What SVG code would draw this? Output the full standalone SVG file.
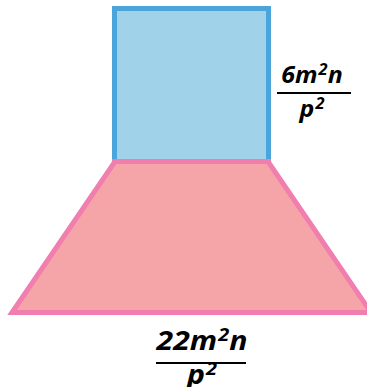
<svg xmlns="http://www.w3.org/2000/svg" width="367" height="387" viewBox="0 0 367 387">
<style>
.lbl{font-family:"Open Sans","Liberation Sans",sans-serif;font-weight:bold;font-style:italic;fill:#000;text-anchor:middle;}
.sup{font-size:0.66em;}
.bar{stroke:#000;stroke-width:2;}
</style>
<rect width="367" height="387" fill="#fff"/>
<g id="trapezoid">
<polygon points="115,161.5 268,161.5 371,312.5 12,312.5" fill="#F5A5A8" stroke="#F07FAF" stroke-width="5" stroke-linejoin="miter"/>
</g>
<g id="square">
<rect x="114.5" y="8.5" width="154" height="153" fill="#A0D2EA" stroke="#4BA5DB" stroke-width="5"/>
<line x1="112" y1="161.5" x2="271" y2="161.5" stroke="#F07FAF" stroke-width="5"/>
</g>
<g id="label-height">
<g transform="translate(312,0) scale(1.06,1)">
<text class="lbl" x="0" y="83" font-size="23.5">6m<tspan class="sup" dx="1" dy="-7.5">2</tspan><tspan dy="7.5">n</tspan></text>
<text class="lbl" x="0" y="117" font-size="23.5">p<tspan class="sup" dx="1" dy="-7.5">2</tspan></text>
</g>
<line class="bar" x1="277" y1="93" x2="351" y2="93"/>
</g>
<g id="label-base">
<g transform="translate(202,0) scale(1.12,1)">
<text class="lbl" x="0" y="350" font-size="27">22m<tspan class="sup" dx="1" dy="-8.5">2</tspan><tspan dy="8.5">n</tspan></text>
<text class="lbl" x="0" y="384" font-size="27">p<tspan class="sup" dx="1" dy="-8.5">2</tspan></text>
</g>
<line class="bar" x1="156" y1="363" x2="246" y2="363"/>
</g>
</svg>
